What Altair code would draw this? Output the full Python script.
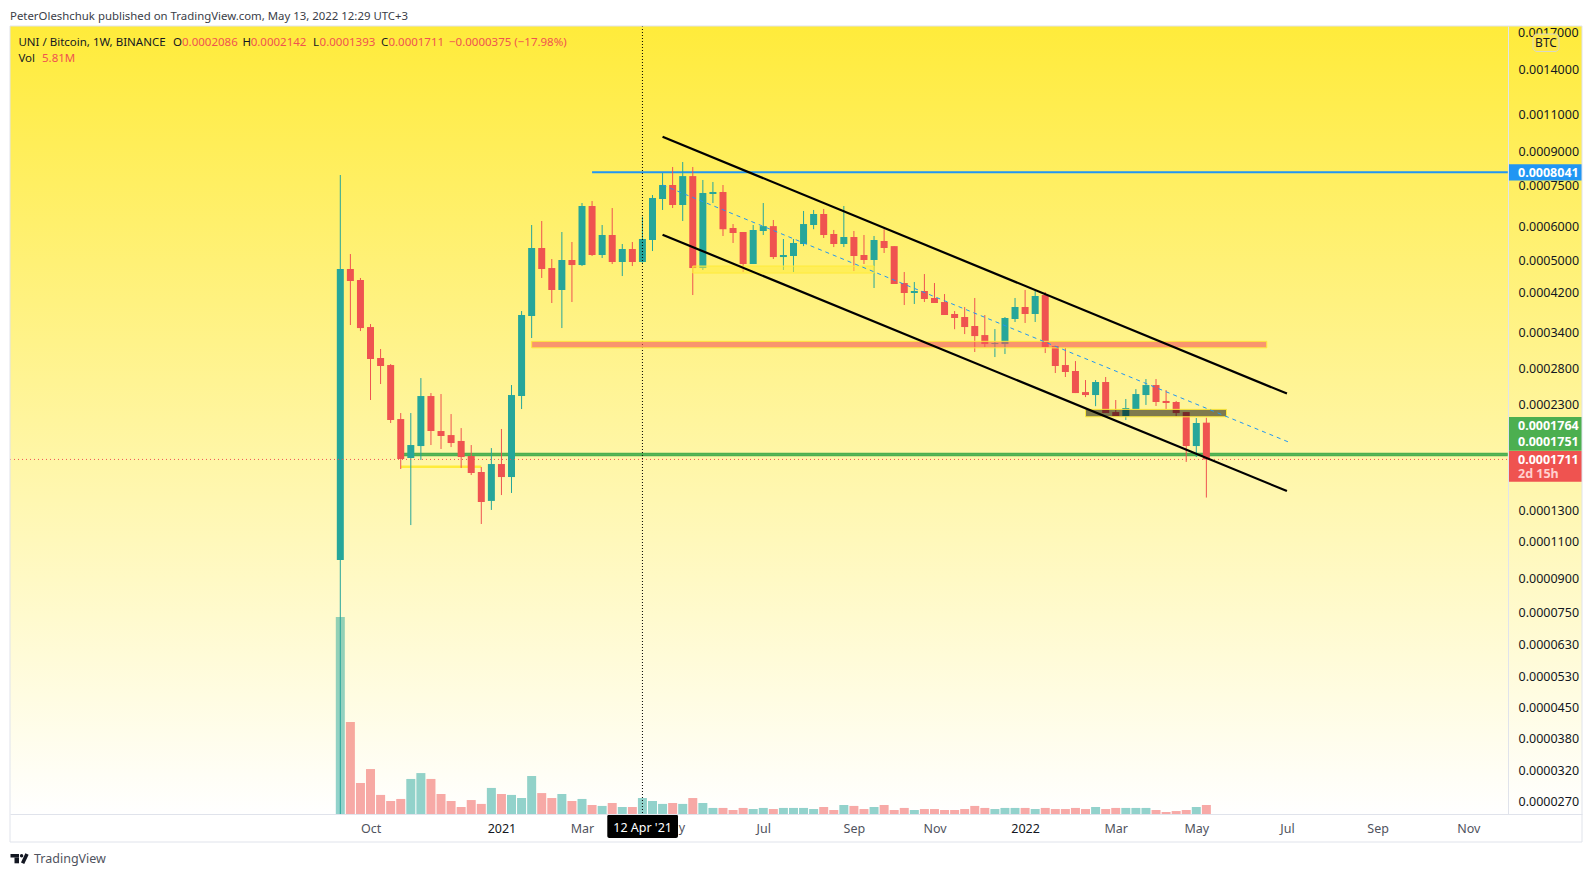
import pandas as pd
import altair as alt

# weekly UNI/BTC candles, prices in units of 0.0000001 BTC
OPEN = [995, 4776, 4501, 3493, 2956, 2846, 2127, 1724, 1839, 2408, 1994, 1951, 1890, 1743, 1599, 1368, 1669, 1556,
        2408, 3707, 5349, 4801, 4265, 5013, 4879, 6707, 5150, 5737, 4959, 5320, 4959, 5584, 6965, 7511, 6743, 7881,
        4801, 7156, 7233, 5958, 5830, 4906, 5862, 6018, 5094, 5122, 5465, 6054, 6425, 5768, 5465, 5675, 5150, 5013,
        5554, 5403, 4428, 4196, 4242, 4085, 3997, 3747, 3687, 3512, 3345, 3187, 3187, 3648, 3891, 3747, 4151, 3153,
        2846, 2756, 2460, 2421, 2597, 2209, 2162, 2245, 2421, 2555, 2345, 2332, 2209, 1839, 2086]
HIGH = [7927, 5177, 4550, 3550, 3103, 2861, 2197, 2197, 2653, 2447, 2434, 2185, 2026, 1849, 1642, 1819, 2016, 2555,
        3808, 6054, 6186, 5040, 5830, 5524, 6816, 6890, 6054, 6635, 5465, 5524, 6331, 7117, 8013, 8277, 8503, 8277,
        7717, 7634, 7511, 6086, 5830, 6054, 6816, 6220, 5614, 5614, 6530, 6565, 6600, 5894, 6707, 5862, 5737, 5706,
        5918, 5403, 4699, 4453, 4648, 4428, 4173, 3808, 3891, 4085, 3727, 3455, 3687, 4085, 4265, 4242, 4219, 3153,
        3119, 2908, 2625, 2625, 2668, 2357, 2370, 2500, 2639, 2639, 2487, 2345, 2209, 2139, 2142]
LOW = [253, 3531, 3418, 2357, 2569, 2082, 1625, 1201, 1706, 1849, 1810, 1829, 1634, 1573, 1208, 1303, 1412, 1428,
       2245, 3292, 4550, 3976, 3474, 3997, 4853, 5122, 5067, 4906, 4598, 4853, 4940, 5262, 6565, 6635, 6186, 4151,
       4750, 6816, 5706, 5495, 4699, 4906, 5737, 5040, 4750, 4699, 5403, 5918, 5645, 5376, 5376, 4724, 4906, 4311,
       5206, 4405, 3933, 3955, 3997, 3976, 3727, 3452, 3363, 3053, 3136, 2971, 3020, 3589, 3570, 3589, 3036, 2726,
       2668, 2447, 2394, 2280, 2197, 2162, 2116, 2245, 2295, 2282, 2245, 2162, 1688, 1733, 1393]
CLOSE = [4776, 4477, 3474, 2940, 2831, 2116, 1715, 1849, 2408, 1994, 1941, 1869, 1733, 1590, 1360, 1669, 1556, 2421,
         3727, 5349, 4776, 4265, 5013, 4879, 6707, 5150, 5737, 4959, 5320, 4959, 5614, 7003, 7511, 6743, 7881, 4801,
         7194, 7233, 5918, 5799, 4906, 5894, 6018, 5094, 5150, 5495, 6086, 6425, 5737, 5465, 5675, 5122, 5013, 5584,
         5349, 4405, 4196, 4242, 4063, 3976, 3727, 3667, 3493, 3327, 3187, 3204, 3667, 3891, 3747, 4129, 3136, 2831,
         2741, 2447, 2421, 2597, 2197, 2162, 2257, 2434, 2555, 2332, 2319, 2197, 1839, 2082, 1711]
# volume in millions
VOLUME = [127.1, 59.3, 20.0, 29.0, 12.3, 8.4, 9.7, 22.6, 26.4, 22.6, 12.9, 8.4, 4.5, 9.0, 6.5, 16.8, 12.9, 12.3,
          10.3, 24.5, 13.5, 10.3, 12.9, 8.4, 9.7, 5.8, 5.2, 7.1, 4.5, 4.5, 10.3, 8.4, 6.5, 7.1, 6.5, 10.3,
          7.1, 3.9, 3.9, 2.6, 3.9, 3.2, 3.9, 3.2, 3.9, 3.9, 3.9, 3.2, 4.5, 2.6, 5.8, 5.2, 3.2, 4.5,
          5.8, 2.6, 3.9, 2.6, 3.2, 3.2, 2.6, 2.6, 3.2, 5.2, 3.9, 3.2, 3.9, 3.9, 3.9, 3.2, 3.9, 3.2,
          3.2, 3.9, 3.2, 4.5, 3.2, 3.9, 3.9, 3.9, 3.9, 2.6, 1.3, 1.9, 2.6, 4.5, 5.81]

# 0.0017 and May sit under tags, so they are drawn as text further down
PRICE_TICKS = [0.0014, 0.0011, 0.0009, 0.00075, 0.0006, 0.0005, 0.00042, 0.00034, 0.00028, 0.00023,
               0.00013, 0.00011, 0.00009, 0.000075, 0.000063, 0.000053, 0.000045, 0.000038, 0.000032, 0.000027]
DATE_TICKS = ["2020-10-05", "2021-01-04", "2021-03-01", "2021-07-05", "2021-09-06", "2021-11-01",
              "2022-01-03", "2022-03-07", "2022-05-02", "2022-07-04", "2022-09-05", "2022-11-07"]

GREEN = "#26a69a"
RED = "#ef5350"
BLUE = "#2196f3"
LEVEL_GREEN = "#4caf50"
YELLOW = "#ffeb3b"
FRAME = "#e0e3eb"
INK = "#131722"
FONT = "Noto Sans"

PAGE_LEFT = 10  # left and top edge of the plot area on the page
PAGE_TOP = 26
PLOT_WIDTH = 1572
PLOT_HEIGHT = 788
PRICE_AXIS_X = 1498  # price axis line, from the plot's left edge
RIGHT_EDGE = "2022-12-04T12:00:00Z"  # date under the price axis line
LEFT_EDGE = "2020-01-28T09:36:00Z"

candles = pd.DataFrame(
    {
        "date": pd.date_range("2020-09-14", periods=len(OPEN), freq="7D").strftime("%Y-%m-%d"),
        "open": [v * 1e-7 for v in OPEN],
        "high": [v * 1e-7 for v in HIGH],
        "low": [v * 1e-7 for v in LOW],
        "close": [v * 1e-7 for v in CLOSE],
        "volume": VOLUME,
    }
)
candles["dir"] = ["up" if c >= o else "down" for o, c in zip(OPEN, CLOSE)]

x_scale = alt.Scale(type="utc", domain=[LEFT_EDGE, "2023-01-25T02:24:00Z"], padding=0)
x_axis = alt.Axis(
    title=None,
    values=DATE_TICKS,
    labelExpr="utcFormat(datum.value, '%m') == '01' ? utcFormat(datum.value, '%Y') : utcFormat(datum.value, '%b')",
    labelColor={"condition": {"test": "utcFormat(datum.value, '%m') == '01'", "value": INK}, "value": "#50535e"},
    labelFont=FONT,
    labelFontSize=12.5,
    labelPadding=8,
    labelOverlap=False,
    labelFlush=False,
    ticks=False,
    grid=False,
    domainColor=FRAME,
    zindex=1,
)
price_scale = alt.Scale(type="log", domain=[0.0000253, 0.00177], nice=False)
price_axis = alt.Axis(
    title=None,
    orient="right",
    offset=PRICE_AXIS_X - PLOT_WIDTH,
    values=PRICE_TICKS,
    format=".7f",
    labelFont=FONT,
    labelFontSize=12.5,
    labelColor=INK,
    labelPadding=10,
    labelOverlap=False,
    labelFlush=False,
    ticks=False,
    grid=False,
    domainColor=FRAME,
    zindex=1,
)


def X(field):
    return alt.X(field, scale=x_scale, axis=x_axis)


def Y(field, axis=None):
    return alt.Y(field, scale=price_scale, axis=axis)


candle_color = alt.Color(
    "dir:N", scale=alt.Scale(domain=["up", "down"], range=[GREEN, RED]), legend=None
)


def level(price, start, color, width, dash=None):
    """Horizontal price line from a date up to the price axis."""
    df = pd.DataFrame({"start": [start], "end": [RIGHT_EDGE], "price": [price]})
    props = {"color": color, "strokeWidth": width}
    if dash:
        props["strokeDash"] = dash
    return alt.Chart(df).mark_rule(**props).encode(x=X("start:T"), x2="end:T", y=Y("price:Q"))


def band(start, end, top, bottom, **props):
    df = pd.DataFrame({"start": [start], "end": [end], "top": [top], "bottom": [bottom]})
    return alt.Chart(df).mark_rect(**props).encode(x=X("start:T"), x2="end:T", y=Y("top:Q"), y2="bottom:Q")


one_row = pd.DataFrame({"n": [0]})


def box(left, right, top, bottom, **props):
    """Rectangle in page pixels, for the background and the tags."""
    return alt.Chart(one_row).mark_rect(**props).encode(
        x=alt.value(left - PAGE_LEFT),
        x2=alt.value(right - PAGE_LEFT),
        y=alt.value(top - PAGE_TOP),
        y2=alt.value(bottom - PAGE_TOP),
    )


def label(text, x, y, color=INK, size=11.5, weight="normal", align="left"):
    return alt.Chart(one_row).mark_text(
        text=text, align=align, baseline="middle", font=FONT, fontSize=size, color=color, fontWeight=weight
    ).encode(x=alt.value(x - PAGE_LEFT), y=alt.value(y - PAGE_TOP))


gradient = alt.LinearGradient(
    gradient="linear",
    stops=[alt.GradientStop(color=YELLOW, offset=0), alt.GradientStop(color="#ffffff", offset=1)],
    x1=0,
    x2=0,
    y1=0,
    y2=1,
)
background = box(10, 1582, 26, 814, fill=gradient)

volume = alt.Chart(candles).mark_bar(size=9, opacity=0.5, orient="vertical").encode(
    x=X("date:T"),
    y=alt.Y("volume:Q", scale=alt.Scale(domain=[0, 508.3], nice=False), axis=None),
    color=candle_color,
)
wicks = alt.Chart(candles).mark_rule(strokeWidth=1).encode(
    x=X("date:T"), y=Y("high:Q"), y2="low:Q", color=candle_color
)
bodies = alt.Chart(candles).mark_bar(size=7, orient="vertical").encode(
    x=X("date:T"), y=Y("open:Q", axis=price_axis), y2="close:Q", color=candle_color
)

crosshair = alt.Chart(pd.DataFrame({"date": ["2021-04-12"]})).mark_rule(
    color="#000000", strokeWidth=1, strokeDash=[1, 2]
).encode(x=X("date:T"))

channel = pd.DataFrame(
    {
        "line": ["upper", "upper", "lower", "lower"],
        "date": ["2021-04-26", "2022-07-04", "2021-04-26", "2022-07-04"],
        "price": [0.0009743, 0.0002440, 0.0005747, 0.0001443],
    }
)
channel_lines = alt.Chart(channel).mark_line(color="#000000", strokeWidth=2.2).encode(
    x=X("date:T"), y=Y("price:Q"), detail="line:N"
)
midline = pd.DataFrame({"date": ["2021-04-26", "2022-07-05"], "price": [0.0007511, 0.0001880]})
mid_line = alt.Chart(midline).mark_line(color=BLUE, strokeWidth=1, strokeDash=[4, 4]).encode(
    x=X("date:T"), y=Y("price:Q")
)

top_tick = alt.Chart(pd.DataFrame({"price": [0.0017]})).mark_text(
    text="0.0017000", align="left", baseline="middle", font=FONT, fontSize=12.5, color=INK
).encode(x=alt.value(1508), y=Y("price:Q"))
may_tick = alt.Chart(pd.DataFrame({"date": ["2021-05-03"]})).mark_text(
    text="May", align="center", baseline="middle", font=FONT, fontSize=12.5, color="#50535e"
).encode(x=X("date:T"), y=alt.value(802))

frame = alt.Chart(one_row).mark_rule(color=FRAME, strokeWidth=1)
frame_left = frame.encode(x=alt.value(0), y=alt.value(0), y2=alt.value(816))
frame_right = frame.encode(x=alt.value(PLOT_WIDTH), y=alt.value(0), y2=alt.value(816))
frame_top = frame.encode(x=alt.value(0), x2=alt.value(PLOT_WIDTH), y=alt.value(0))
frame_bottom = frame.encode(x=alt.value(0), x2=alt.value(PLOT_WIDTH), y=alt.value(816))

# the TradingView logo in the footer: a T, a dot and a slash
logo_ink = "#131722"
logo = [
    box(10.5, 19, 854, 857.5, fill=logo_ink),
    box(14.5, 19, 857.5, 863.3, fill=logo_ink),
    alt.Chart(one_row).mark_point(filled=True, size=12, color=logo_ink, opacity=1).encode(
        x=alt.value(21.6 - PAGE_LEFT), y=alt.value(855.8 - PAGE_TOP)
    ),
    alt.Chart(one_row).mark_rule(color=logo_ink, strokeWidth=3.6).encode(
        x=alt.value(27 - PAGE_LEFT),
        x2=alt.value(22.6 - PAGE_LEFT),
        y=alt.value(854 - PAGE_TOP),
        y2=alt.value(863.3 - PAGE_TOP),
    ),
]

layers = [
    background,
    volume,
    band("2020-10-26", "2020-12-21", 0.0001656, 0.0001634, fill=YELLOW),
    level(0.0001764, "2020-10-26", LEVEL_GREEN, 2),
    level(0.0001751, "2020-10-26", LEVEL_GREEN, 2),
    level(0.0008041, "2021-03-08", BLUE, 2),
    wicks,
    bodies,
    level(0.0001711, LEFT_EDGE, RED, 1, dash=[1, 3]),
    crosshair,
    band("2021-01-25", "2022-06-20", 0.0003234, 0.0003122,
         fill="#f5575a", fillOpacity=0.6, stroke=YELLOW, strokeWidth=1),
    band("2021-05-17", "2021-09-20", 0.0004853, 0.0004673,
         fill=YELLOW, fillOpacity=0.5, stroke=YELLOW, strokeWidth=1),
    band("2022-02-14", "2022-05-23", 0.0002241, 0.0002153,
         fill="#000000", fillOpacity=0.5, stroke=YELLOW, strokeWidth=1),
    channel_lines,
    mid_line,
    top_tick,
    may_tick,
    # price tags
    box(1508, 1582, 164.3, 180.6, fill=BLUE),
    label("0.0008041", 1518, 172.5, color="#ffffff", size=12.5, weight="bold"),
    box(1508, 1582, 417, 450.7, fill=LEVEL_GREEN),
    label("0.0001764", 1518, 426, color="#ffffff", size=12.5, weight="bold"),
    label("0.0001751", 1518, 442, color="#ffffff", size=12.5, weight="bold"),
    box(1508, 1582, 451, 481.7, fill=RED),
    label("0.0001711", 1518, 459.5, color="#ffffff", size=12.5, weight="bold"),
    label("2d 15h", 1518, 473.5, color="#ffd0cf", size=12.5, weight="bold"),
    box(1533, 1559, 34, 51.5, fill="#fee94a", stroke="#d8d8c8", strokeWidth=1, cornerRadius=4),
    label("BTC", 1546, 43, size=12, align="center"),
    # time tag
    box(607.3, 678, 814.5, 838, fill="#000000", cornerRadius=2),
    label("12 Apr '21", 642.6, 828, color="#ffffff", size=12.5, align="center"),
    frame_left,
    frame_right,
    frame_top,
    frame_bottom,
    # header
    label("PeterOleshchuk published on TradingView.com, May 13, 2022 12:29 UTC+3", 10, 16.5, color="#3a3d47", size=11.4),
    label("UNI / Bitcoin, 1W, BINANCE", 18.4, 42.5, size=11.5),
    label("O", 173, 42.5, size=11.5),
    label("0.0002086", 182, 42.5, color=RED, size=11.5),
    label("H", 242.6, 42.5, size=11.5),
    label("0.0002142", 250.7, 42.5, color=RED, size=11.5),
    label("L", 313, 42.5, size=11.5),
    label("0.0001393", 319.6, 42.5, color=RED, size=11.5),
    label("C", 381, 42.5, size=11.5),
    label("0.0001711", 388.4, 42.5, color=RED, size=11.5),
    label("\u22120.0000375 (\u221217.98%)", 449, 42.5, color=RED, size=11.5),
    label("Vol", 18.4, 59, size=11.5),
    label("5.81M", 42, 59, color=RED, size=11.5),
    # footer
    *logo,
    label("TradingView", 34, 859, color="#50535e", size=12.5),
]

chart = (
    alt.layer(*layers)
    .resolve_scale(y="independent")
    .properties(
        width=PLOT_WIDTH,
        height=PLOT_HEIGHT,
        padding={"left": 2, "top": 18, "right": 4, "bottom": 55},
        autosize=alt.AutoSizeParams(type="none"),
        background="#ffffff",
    )
    .configure_view(stroke=None)
)

chart.save("out.html", embed_options={"renderer": "svg", "actions": False})
